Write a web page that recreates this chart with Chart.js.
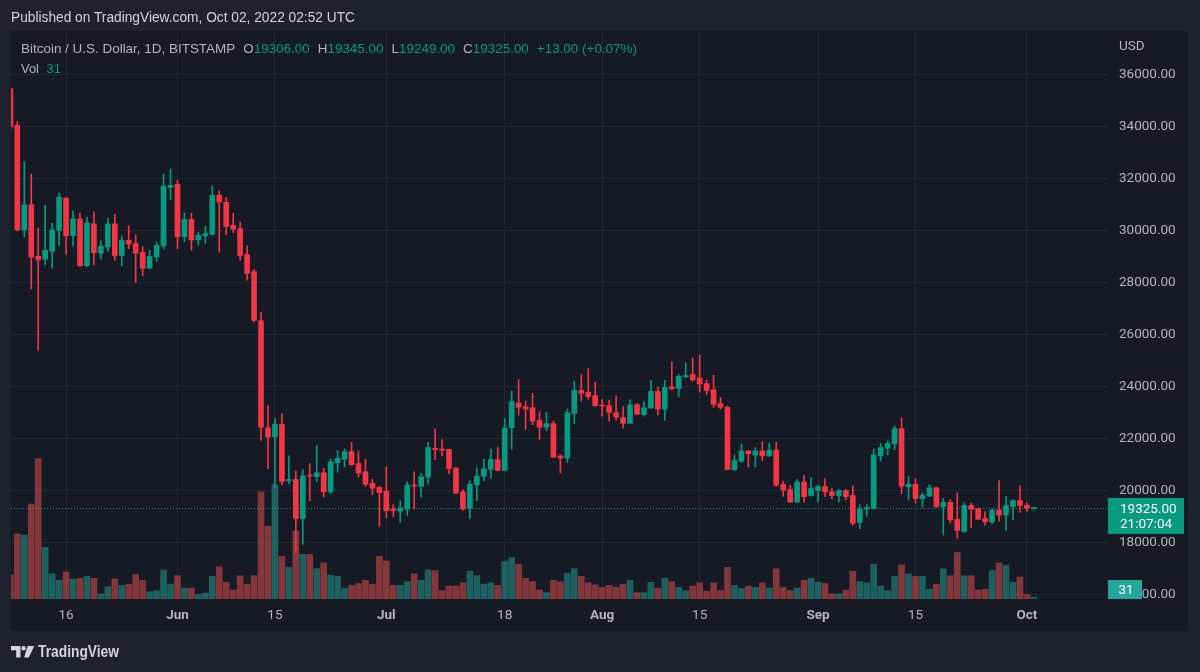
<!DOCTYPE html>
<html>
<head>
<meta charset="utf-8">
<title>BTCUSD 1D</title>
<script src="https://cdn.jsdelivr.net/npm/chart.js@4.4.0/dist/chart.umd.min.js"></script>
<style>
  html, body {
    margin: 0;
    padding: 0;
    width: 1200px;
    height: 672px;
    overflow: hidden;
    background: #1e222d;
    font-family: "Liberation Sans", Arial, sans-serif;
  }
  #pane {
    position: absolute;
    left: 11px;
    top: 31px;
    width: 1177px;
    height: 600px;
    background: #161a25;
  }
  #chart {
    position: absolute;
    left: 0;
    top: 0;
  }
  .txt {
    position: absolute;
    display: inline-block;
    white-space: nowrap;
    line-height: 1;
    transform-origin: 0 50%;
  }
  .up { color: #089981; }
  .gap { margin-left: 8px; }
  #logo { position: absolute; left: 11px; top: 646px; }
</style>
</head>
<body>
<div id="pane"></div>
<canvas id="chart" width="1200" height="672"></canvas>

<div class="txt" style="left:11px;top:10px;font-size:14px;color:#d1d4dc" data-w="344">Published on TradingView.com, Oct 02, 2022 02:52 UTC</div>
<div class="txt" id="legend" style="left:21px;top:42px;font-size:13.5px;color:#b2b5be" data-w="616"></div>
<div class="txt" id="volLegend" style="left:21px;top:62px;font-size:13.5px;color:#b2b5be" data-w="40"></div>

<svg id="logo" width="24" height="12" viewBox="0 0 24 12">
  <path d="M0 0h9.5v11.5H5.2V4.2H0z" fill="#d1d4dc"/>
  <circle cx="12.6" cy="2.2" r="2.2" fill="#d1d4dc"/>
  <path d="M16.6 0h6.6l-5.4 11.5h-4.6z" fill="#d1d4dc"/>
</svg>
<div class="txt" style="left:38px;top:644px;font-size:16px;font-weight:bold;color:#d1d4dc" data-w="81">TradingView</div>

<script>
"use strict";

// daily candles, BITSTAMP BTC/USD, first candle = startDay
const startDay = "2022-05-08";

const open = [
  35460, 34050, 30030, 31000, 29010, 28900, 29200, 30010, 31250, 29810,
  30450, 28650, 30260, 29130, 29370, 30260, 29040, 29630, 29500, 29160,
  28560, 28980, 29410, 31660, 31780, 29770, 30430, 29640, 29800, 29860,
  31360, 31090, 30200, 30070, 29080, 28420, 26530, 22410, 22060, 22540,
  20370, 20420, 18920, 20580, 20530, 20680, 19940, 21070, 21200, 21490,
  21030, 20720, 20270, 20110, 19970, 19280, 19200, 19280, 20200, 20160,
  20510, 21620, 21590, 21580, 20860, 19940, 19310, 20210, 20540, 20810,
  21180, 20770, 22410, 23360, 23220, 23180, 22690, 22430, 22570, 21330,
  21240, 22960, 23850, 23770, 23650, 23270, 23260, 22990, 22800, 22580,
  23300, 22920, 23170, 23810, 23130, 23980, 23920, 24370, 24460, 24330,
  24110, 23870, 23340, 23200, 20800, 21130, 21520, 21360, 21520, 21330,
  21550, 20230, 20030, 19550, 20320, 19800, 19990, 20150, 19940, 19800,
  19990, 19800, 18770, 19280, 19310, 21330, 21620, 21790, 22380, 20140,
  20240, 19680, 19780, 20100, 19380, 19540, 18880, 18420, 19420, 19300,
  18920, 18780, 19240, 19050, 19380, 19610, 19420, 19306
];

const high = [
  35510, 34200, 32660, 32170, 30100, 30970, 30280, 31440, 31280, 30760,
  30670, 30510, 30730, 29610, 30470, 30630, 29800, 30190, 29840, 29380,
  29240, 29570, 32180, 32370, 31930, 30690, 30670, 29930, 30160, 31720,
  31530, 31280, 30670, 30330, 29410, 28510, 26850, 23260, 22770, 22960,
  21330, 20750, 20800, 21030, 21720, 20850, 21200, 21530, 21590, 21850,
  21520, 21190, 20420, 20160, 20900, 19450, 19600, 20330, 20720, 20660,
  21850, 22370, 21960, 21590, 20880, 20030, 20370, 20880, 21200, 21590,
  21650, 22770, 23810, 24260, 23440, 23740, 23030, 23000, 22670, 21370,
  23130, 24200, 24460, 24690, 24160, 23490, 23480, 23650, 23230, 23490,
  23330, 23420, 24240, 23980, 24240, 24950, 24460, 24910, 25080, 25200,
  24240, 24430, 23570, 23250, 21370, 21790, 21530, 21650, 21880, 21810,
  21850, 20360, 20190, 20420, 20580, 20490, 20190, 20450, 20070, 20030,
  20040, 20190, 19450, 19450, 21590, 21810, 21900, 22480, 22790, 20540,
  20450, 19910, 20220, 20130, 19690, 19640, 19910, 19520, 19510, 19320,
  19180, 19300, 20380, 19770, 19650, 20180, 19510, 19345
];

const low = [
  33760, 29990, 29760, 27750, 25400, 28680, 28550, 29430, 29080, 29410,
  28610, 28610, 28680, 28910, 29210, 28850, 28650, 29300, 28000, 28260,
  28520, 28820, 29300, 31200, 29310, 29570, 29250, 29440, 29510, 29820,
  29170, 29840, 29930, 28850, 28090, 26480, 21930, 20840, 20100, 20210,
  20250, 17600, 17920, 19600, 20340, 19740, 19870, 20700, 20900, 20960,
  20510, 20160, 19840, 18620, 18940, 18990, 18780, 19040, 19280, 19740,
  20240, 21180, 21330, 20640, 19870, 19240, 18910, 19600, 20370, 20460,
  20750, 20750, 21590, 22900, 22350, 22530, 21960, 22300, 21260, 20680,
  21070, 22570, 23440, 23510, 23230, 22860, 22660, 22700, 22390, 22560,
  22910, 22860, 23160, 22900, 22700, 23870, 23610, 24330, 24200, 23780,
  23680, 23200, 23130, 20790, 20760, 21070, 20900, 20900, 21140, 21310,
  20160, 19770, 19540, 19530, 19540, 19770, 19560, 19760, 19670, 19560,
  19630, 18660, 18530, 19000, 19280, 21140, 21370, 21570, 19870, 19650,
  19510, 19360, 19760, 19340, 18290, 18740, 18160, 18390, 18560, 18870,
  18660, 18710, 18820, 18460, 18870, 19160, 19180, 19249
];

const close = [
  34000, 30030, 30990, 28980, 28870, 29240, 30030, 31290, 29800, 30450,
  28650, 30300, 29150, 29400, 30260, 29040, 29630, 29480, 29130, 28550,
  29000, 29430, 31710, 31740, 29760, 30430, 29640, 29820, 29890, 31360,
  31100, 30160, 30060, 29040, 28350, 26540, 22430, 22060, 22540, 20340,
  20420, 18920, 20560, 20550, 20680, 19940, 21100, 21230, 21490, 20990,
  20670, 20240, 20080, 19910, 19220, 19220, 19330, 20210, 20160, 20530,
  21650, 21570, 21550, 20840, 19900, 19280, 20230, 20550, 20830, 21190,
  20770, 22410, 23420, 23200, 23130, 22660, 22430, 22570, 21280, 21240,
  22990, 23850, 23740, 23610, 23260, 23250, 23000, 22820, 22580, 23290,
  22930, 23180, 23810, 23130, 23960, 23910, 24390, 24420, 24260, 24090,
  23850, 23310, 23200, 20800, 21150, 21520, 21410, 21520, 21330, 21550,
  20200, 20010, 19550, 20320, 19760, 20070, 20150, 19940, 19800, 19990,
  19760, 18730, 19280, 19340, 21370, 21650, 21810, 22370, 20160, 20240,
  19680, 19810, 20100, 19380, 19540, 18860, 18460, 19420, 19280, 18890,
  18790, 19240, 19050, 19420, 19610, 19420, 19312, 19325
];

// BTC traded per day
const volume = [
  370, 1010, 990, 1470, 2170, 800, 390, 290, 420, 310,
  320, 350, 320, 80, 190, 310, 210, 230, 380, 290,
  110, 130, 450, 230, 360, 170, 170, 70, 90, 350,
  500, 260, 140, 360, 230, 360, 1660, 1130, 1770, 660,
  490, 1050, 690, 690, 470, 560, 370, 350, 170, 210,
  240, 290, 230, 660, 590, 210, 210, 270, 390, 290,
  450, 440, 130, 200, 200, 250, 430, 360, 230, 250,
  210, 580, 640, 540, 320, 270, 140, 100, 290, 270,
  400, 470, 350, 250, 220, 180, 210, 180, 230, 290,
  100, 100, 260, 170, 320, 270, 180, 130, 200, 250,
  120, 250, 130, 490, 210, 160, 200, 180, 250, 170,
  470, 180, 130, 170, 290, 320, 260, 240, 80, 80,
  140, 430, 270, 250, 540, 200, 130, 350, 530, 390,
  350, 350, 150, 230, 470, 360, 720, 360, 360, 140,
  150, 440, 560, 520, 260, 340, 70, 31
];

const tickDates = [
  "2022-05-16", "2022-06-01", "2022-06-15", "2022-07-01", "2022-07-18",
  "2022-08-01", "2022-08-15", "2022-09-01", "2022-09-15", "2022-10-01"
];
const tickLabels = ["16", "Jun", "15", "Jul", "18", "Aug", "15", "Sep", "15", "Oct"];
const priceTicks = [16000, 18000, 20000, 22000, 24000, 26000, 28000, 30000, 32000, 34000, 36000];

const countdown = "21:07:04";

const GREEN = "#089981",
  RED = "#f23645",
  VOL_UP = "rgba(38,166,154,0.5)",
  VOL_DOWN = "rgba(239,83,80,0.5)",
  GRID = "#232733",
  AXIS_TEXT = "#b2b5be";

const last = close.length - 1;
const lastPrice = close[last];
const lastVol = volume[last];

const dayIndex = (d) => Math.round((Date.parse(d) - Date.parse(startDay)) / 86400000);
const tickDays = tickDates.map(dayIndex);

const isUp = close.map((c, i) => c >= open[i]);
const candleColors = isUp.map((u) => (u ? GREEN : RED));
const volColors = isUp.map((u) => (u ? VOL_UP : VOL_DOWN));

/**
 * Fills in the OHLC legend above the chart
 */
function buildLegend() {
  const change = close[last] - close[last - 1];
  const pct = (change / close[last - 1]) * 100;
  const sign = change >= 0 ? "+" : "";
  const f = (v) => v.toFixed(2);
  document.getElementById("legend").innerHTML =
    `Bitcoin / U.S. Dollar, 1D, BITSTAMP` +
    `<span class="gap">O</span><span class="up">${f(open[last])}</span>` +
    `<span class="gap">H</span><span class="up">${f(high[last])}</span>` +
    `<span class="gap">L</span><span class="up">${f(low[last])}</span>` +
    `<span class="gap">C</span><span class="up">${f(close[last])}</span>` +
    `<span class="gap up">${sign}${f(change)} (${sign}${pct.toFixed(2)}%)</span>`;
  document.getElementById("volLegend").innerHTML =
    `Vol<span class="up" style="margin-left:8px">${lastVol}</span>`;
}

/**
 * Stretches the overlay texts to the widths measured on the reference
 */
function fitTexts() {
  document.querySelectorAll("[data-w]").forEach((el) => {
    const w = el.getBoundingClientRect().width;
    if (w > 0) el.style.transform = `scaleX(${el.dataset.w / w})`;
  });
}

// last price line, price / countdown badge, volume badge, currency
const overlay = {
  id: "overlay",
  beforeDatasetsDraw(chart) {
    const { ctx, chartArea, scales } = chart;
    const py = Math.round(scales.y.getPixelForValue(lastPrice)) + 0.5;
    ctx.save();
    ctx.strokeStyle = GREEN;
    ctx.lineWidth = 1;
    ctx.setLineDash([1, 2]);
    ctx.beginPath();
    ctx.moveTo(chartArea.left, py);
    ctx.lineTo(chartArea.right, py);
    ctx.stroke();
    ctx.restore();
  },
  afterDraw(chart) {
    const { ctx, chartArea, scales } = chart;
    const left = chartArea.right;
    ctx.save();
    ctx.font = "13.5px Roboto";
    ctx.textBaseline = "middle";
    ctx.textAlign = "left";
    ctx.fillStyle = AXIS_TEXT;
    ctx.fillText("USD", left + 11, 47);

    const py = scales.y.getPixelForValue(lastPrice);
    ctx.fillStyle = GREEN;
    ctx.fillRect(left, py - 10, 76, 36);
    ctx.fillStyle = "#ffffff";
    ctx.fillText(lastPrice.toFixed(2), left + 12, py + 1.5);
    ctx.fillText(countdown, left + 12, py + 17);

    const vy = Math.min(scales.vol.getPixelForValue(lastVol) - 9.5, chartArea.bottom - 19);
    ctx.fillStyle = "#26a69a";
    ctx.fillRect(left, vy, 34, 19);
    ctx.fillStyle = "#ffffff";
    ctx.textAlign = "center";
    ctx.fillText(String(lastVol), left + 18, vy + 10.5);
    ctx.restore();
  },
};

function buildChart() {
  Chart.defaults.font.family = "Roboto";
  Chart.defaults.color = AXIS_TEXT;

  return new Chart(document.getElementById("chart"), {
    type: "bar",
    data: {
      datasets: [
        {
          label: "Vol",
          yAxisID: "vol",
          data: volume.map((v, i) => ({ x: i, y: v })),
          backgroundColor: volColors,
          barThickness: 6,
          grouped: false,
          clip: 0,
          order: 3,
        },
        {
          label: "Wick",
          yAxisID: "y",
          data: low.map((l, i) => ({ x: i, y: [l, high[i]] })),
          backgroundColor: candleColors,
          barThickness: 1,
          grouped: false,
          clip: 0,
          order: 2,
        },
        {
          label: "Body",
          yAxisID: "y",
          data: open.map((o, i) => ({ x: i, y: [o, close[i]] })),
          backgroundColor: candleColors,
          barThickness: 5,
          minBarLength: 1,
          grouped: false,
          clip: 0,
          order: 1,
        },
      ],
    },
    options: {
      responsive: false,
      animation: false,
      events: [],
      layout: { padding: { left: 11, top: 31, right: 12, bottom: 41 } },
      plugins: { legend: { display: false }, tooltip: { enabled: false } },
      scales: {
        x: {
          type: "linear",
          min: 0.09,
          max: 157.65,
          offset: false,
          border: { display: false },
          grid: { color: GRID, drawTicks: false, offset: false },
          afterBuildTicks: (s) => {
            s.ticks = tickDays.map((v) => ({ value: v }));
          },
          afterFit: (s) => {
            s.height = 32;
          },
          ticks: {
            autoSkip: false,
            maxRotation: 0,
            padding: 9,
            color: AXIS_TEXT,
            font: (c) => {
              const k = tickDays.indexOf(c.tick ? c.tick.value : -1);
              const month = k >= 0 && isNaN(Number(tickLabels[k]));
              return { size: 13.5, weight: month ? "bold" : "normal" };
            },
            callback: (v) => tickLabels[tickDays.indexOf(v)],
          },
        },
        y: {
          position: "right",
          min: 15819,
          max: 37683,
          beginAtZero: false,
          border: { display: false },
          grid: { color: GRID, drawTicks: false },
          afterBuildTicks: (s) => {
            s.ticks = priceTicks.map((v) => ({ value: v }));
          },
          afterFit: (s) => {
            s.width = 80;
          },
          ticks: {
            padding: 11,
            color: AXIS_TEXT,
            font: { size: 13.5 },
            callback: (v) => v.toFixed(2),
          },
        },
        vol: {
          display: false,
          min: 0,
          max: 8800,
          beginAtZero: true,
        },
      },
    },
    plugins: [overlay],
  });
}

/**
 * Main Entry Point
 */
function main() {
  buildLegend();
  fitTexts();
  buildChart();
}

main();
</script>
</body>
</html>
